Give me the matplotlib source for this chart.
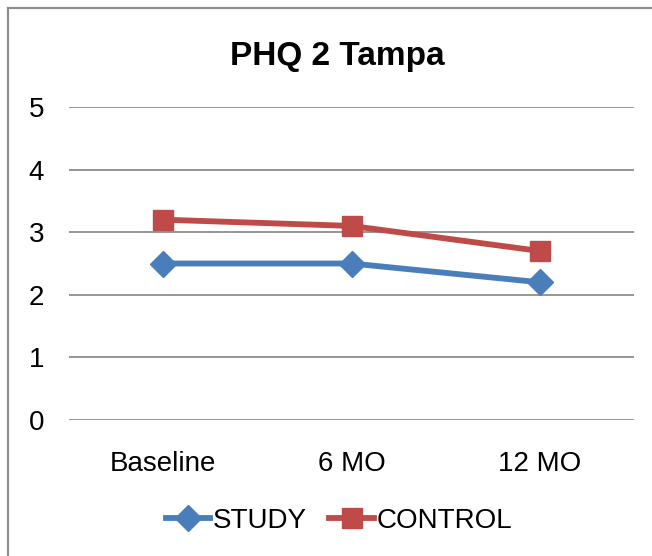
import matplotlib
matplotlib.use("Agg")
import matplotlib.pyplot as plt
from matplotlib.lines import Line2D

# data
categories = ["Baseline", "6 MO", "12 MO"]
study = [2.5, 2.5, 2.2]
control = [3.2, 3.1, 2.7]
y_ticks = [0, 1, 2, 3, 4, 5]

plt.rcParams['font.family'] = ['Liberation Sans', 'DejaVu Sans']

BLUE = "#4A7EBB"
RED = "#BE4B48"
GRID = "#8C8C8C"

fig = plt.figure(figsize=(6.52, 5.56), dpi=100)
ax = fig.add_axes([69/652, 1 - 420/556, (634 - 69)/652, (420 - 107)/556])

x = list(range(len(categories)))
ax.plot(x, study, color=BLUE, lw=4.2, marker="D", ms=13, label="STUDY")
ax.plot(x, control, color=RED, lw=4.2, marker="s", ms=14, label="CONTROL")

ax.set_xlim(-0.5, len(categories) - 0.5)
ax.set_ylim(0, 5)
ax.set_yticks(y_ticks)
ax.set_xticks(x)
ax.set_xticklabels(categories)
for t in y_ticks:
    ax.axhline(t, color=GRID, lw=1.3, zorder=0)
for s in ax.spines.values():
    s.set_visible(False)
ax.tick_params(axis="both", length=0, labelsize=20)
ax.tick_params(axis="y", pad=18)
ax.tick_params(axis="x", pad=22)

fig.text(0.517, 1 - 57/556, "PHQ 2 Tampa", ha="center", va="center",
         fontsize=24, fontweight="bold")

fig.legend(loc="center", bbox_to_anchor=(0.52, 1 - 521/556), ncol=2,
           frameon=False, fontsize=20, handlelength=1.6, handletextpad=0.1,
           columnspacing=0.8)

# chart frame (left and top edges visible)
fig.add_artist(Line2D([8/652, 8/652], [0, 1 - 8/556], transform=fig.transFigure,
                      color="#8E8E8E", lw=1.6))
fig.add_artist(Line2D([8/652, 1], [1 - 8/556, 1 - 8/556], transform=fig.transFigure,
                      color="#8E8E8E", lw=1.6))

fig.savefig("out.png", dpi=100)
